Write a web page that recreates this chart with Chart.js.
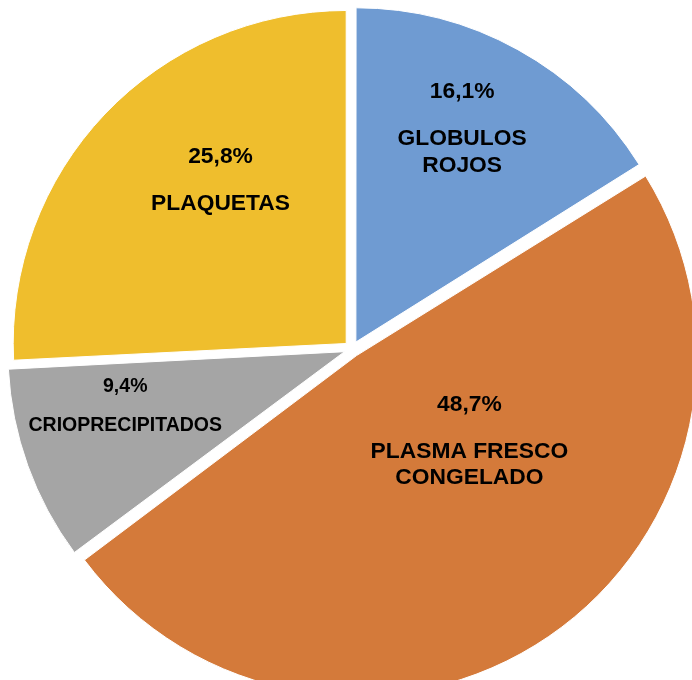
<!DOCTYPE html>
<html lang="es">
<head>
    <meta charset="UTF-8">
    <title>Hemocomponentes</title>
    <script src="https://cdn.jsdelivr.net/npm/chart.js"></script>
    <style>
        body { margin: 0; background: #fff; }
        .chart-box { width: 692px; height: 680px; }
    </style>
</head>
<body>
    <div class="chart-box">
        <canvas id="pieChart" width="692" height="680"></canvas>
    </div>

    <script>
        // data
        const categories = ['GLOBULOS\nROJOS', 'PLASMA FRESCO\nCONGELADO', 'CRIOPRECIPITADOS', 'PLAQUETAS'];
        const percentages = [16.1, 48.7, 9.4, 25.8];
        const percentLabels = ['16,1%', '48,7%', '9,4%', '25,8%'];

        const colors = ['#6f9bd2', '#d47a3a', '#a5a5a5', '#efbe2d'];

        // where each label block sits inside its slice: [angle shift in deg, fraction of radius], font size
        const labelPlace = [
            { shift: -5.8, frac: 0.84, size: 22.8 },
            { shift: -30.3, frac: 0.39, size: 22.8 },
            { shift: 10.5, frac: 0.69, size: 19.5 },
            { shift: 12.1, frac: 0.70, size: 22.8 }
        ];

        const sliceLabels = {
            id: 'sliceLabels',
            afterDatasetsDraw(chart) {
                const ctx = chart.ctx;
                const arcs = chart.getDatasetMeta(0).data;
                ctx.save();
                ctx.fillStyle = '#000';
                ctx.textAlign = 'center';
                ctx.textBaseline = 'middle';
                arcs.forEach((arc, i) => {
                    const p = labelPlace[i];
                    const mid = (arc.startAngle + arc.endAngle) / 2 + p.shift * Math.PI / 180;
                    const r = arc.outerRadius * p.frac;
                    const x = arc.x + Math.cos(mid) * r;
                    let y = arc.y + Math.sin(mid) * r;
                    ctx.font = 'bold ' + p.size + 'px "Liberation Sans", Arial, sans-serif';
                    ctx.fillText(percentLabels[i], x, y);
                    y += p.size * 2.05;
                    categories[i].split('\n').forEach(line => {
                        ctx.fillText(line, x, y);
                        y += p.size * 1.17;
                    });
                });
                ctx.restore();
            }
        };

        const ctx = document.getElementById('pieChart').getContext('2d');
        new Chart(ctx, {
            type: 'pie',
            data: {
                labels: categories,
                datasets: [{
                    data: percentages,
                    backgroundColor: colors,
                    borderColor: '#ffffff',
                    borderWidth: 1,
                    offset: 32,
                    radius: 333,
                    clip: false
                }]
            },
            options: {
                responsive: false,
                animation: false,
                layout: { padding: { left: 12, top: 18, right: 0, bottom: 0 } },
                plugins: {
                    legend: { display: false },
                    tooltip: { enabled: false }
                }
            },
            plugins: [sliceLabels]
        });
    </script>
</body>
</html>
